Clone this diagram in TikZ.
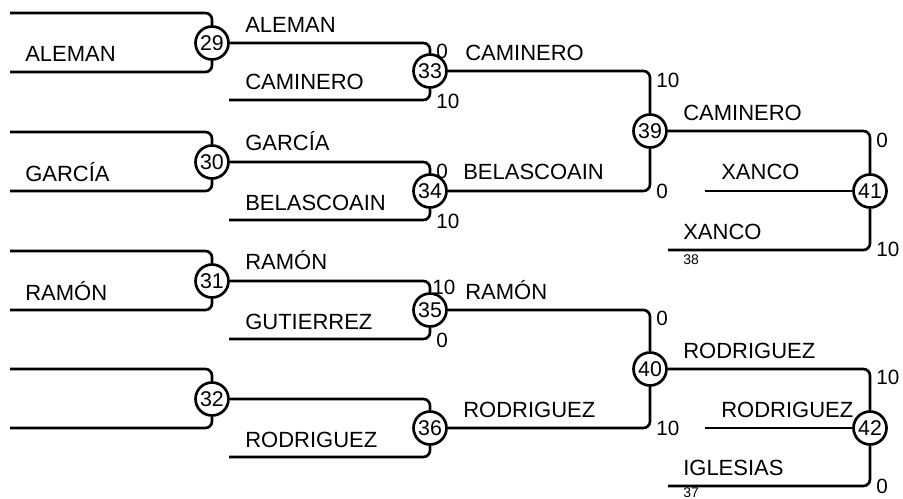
\documentclass[tikz,border=0pt]{standalone}
\usepackage{fontspec}
\setmainfont{Liberation Sans}
\begin{document}
\begin{tikzpicture}[x=0.75pt,y=-0.75pt,
  conn/.style={line width=2pt, rounded corners=5pt},
  match/.style={circle, draw, line width=2pt, minimum size=24.75pt, inner sep=0pt, fill=white, font=\fontsize{16}{17}\selectfont},
  team/.style={anchor=base west, inner sep=0pt, font=\fontsize{16.5}{18}\selectfont},
  score/.style={anchor=west, inner sep=0pt, font=\fontsize{15.5}{17}\selectfont},
  tiny/.style={anchor=north west, inner sep=0pt, font=\fontsize{10.5}{11}\selectfont}]
\useasboundingbox (0,0) rectangle (903,499);
% match circles
\node[match] (c29) at (212,43) {29};
\node[match] (c30) at (212,162) {30};
\node[match] (c31) at (212,281) {31};
\node[match] (c32) at (212,399) {32};
\node[match] (c33) at (430,71) {33};
\node[match] (c34) at (430,191) {34};
\node[match] (c35) at (430,310) {35};
\node[match] (c36) at (430,428) {36};
\node[match] (c39) at (650,131) {39};
\node[match] (c40) at (650,369) {40};
\node[match] (c41) at (870,191) {41};
\node[match] (c42) at (870,428) {42};
% free ends
\coordinate (a29) at (10,13);  \coordinate (b29) at (10,72);
\coordinate (a30) at (10,132); \coordinate (b30) at (10,191);
\coordinate (a31) at (10,251); \coordinate (b31) at (10,310);
\coordinate (a32) at (10,369); \coordinate (b32) at (10,428);
\coordinate (b33) at (229,100);
\coordinate (b34) at (229,220);
\coordinate (b35) at (229,339);
\coordinate (b36) at (229,457);
\coordinate (m41) at (705,191);
\coordinate (b41) at (668,250);
\coordinate (m42) at (705,428);
\coordinate (b42) at (668,486);
% connectors
\foreach \n in {29,30,31,32}{
  \draw[conn] (a\n) -| (c\n);
  \draw[conn] (b\n) -| (c\n);
}
\draw[conn] (c29) -| (c33); \draw[conn] (b33) -| (c33);
\draw[conn] (c30) -| (c34); \draw[conn] (b34) -| (c34);
\draw[conn] (c31) -| (c35); \draw[conn] (b35) -| (c35);
\draw[conn] (c32) -| (c36); \draw[conn] (b36) -| (c36);
\draw[conn] (c33) -| (c39); \draw[conn] (c34) -| (c39);
\draw[conn] (c35) -| (c40); \draw[conn] (c36) -| (c40);
\draw[conn] (c39) -| (c41); \draw[conn] (b41) -| (c41); \draw[conn] (m41) -- (c41);
\draw[conn] (c40) -| (c42); \draw[conn] (b42) -| (c42); \draw[conn] (m42) -- (c42);
% team labels
\node[team] (t1) at (25,62) {ALEMAN};
\node[team] (t2) at (25,181) {GARCÍA};
\node[team] (t3) at (25,300) {RAMÓN};
\node[team] (t4) at (245,33) {ALEMAN};
\node[team] (t5) at (245,90) {CAMINERO};
\node[team] (t6) at (245,151) {GARCÍA};
\node[team] (t7) at (245,210) {BELASCOAIN};
\node[team] (t8) at (245,269) {RAMÓN};
\node[team] (t9) at (245,329) {GUTIERREZ};
\node[team] (t10) at (245,447) {RODRIGUEZ};
\node[team] (t11) at (465,61) {CAMINERO};
\node[team] (t12) at (463,180) {BELASCOAIN};
\node[team] (t13) at (465,299) {RAMÓN};
\node[team] (t14) at (463,417) {RODRIGUEZ};
\node[team] (t15) at (683,121) {CAMINERO};
\node[team] (t16) at (721,180) {XANCO};
\node[team] (t17) at (683,239) {XANCO};
\node[team] (t18) at (683,358) {RODRIGUEZ};
\node[team] (t19) at (721,417) {RODRIGUEZ};
\node[team] (t20) at (683,475) {IGLESIAS};
% scores
\node[score] (s1) at (436,51) {0};
\node[score] (s2) at (436,101) {10};
\node[score] (s3) at (436,171) {0};
\node[score] (s4) at (436,221) {10};
\node[score] (s5) at (432,287) {10};
\node[score] (s6) at (436,340) {0};
\node[score] (s7) at (656,80) {10};
\node[score] (s8) at (656,191) {0};
\node[score] (s9) at (656,318) {0};
\node[score] (s10) at (656,428) {10};
\node[score] (s11) at (876,140) {0};
\node[score] (s12) at (876,249) {10};
\node[score] (s13) at (876,377) {10};
\node[score] (s14) at (876,486) {0};
\node[tiny] (n38) at (683,254) {38};
\node[tiny] (n37) at (683,487) {37};
\end{tikzpicture}
\end{document}
